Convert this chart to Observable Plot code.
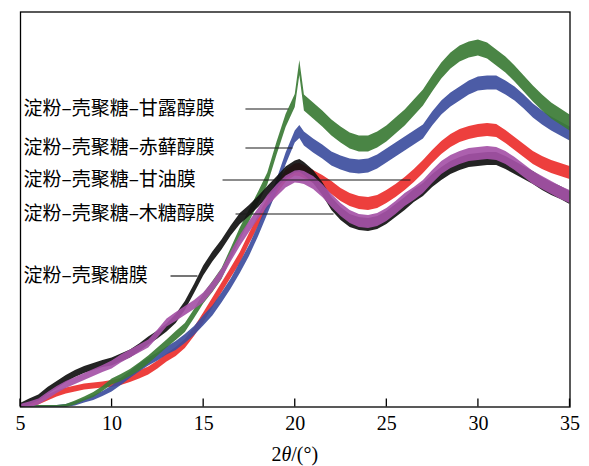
<!DOCTYPE html>
<html>
<head>
<meta charset="utf-8">
<script src="https://cdn.jsdelivr.net/npm/d3@7"></script>
<script src="https://cdn.jsdelivr.net/npm/@observablehq/plot@0.6"></script>
<style>
  html, body { margin: 0; padding: 0; background: #fff; }
  #chart { width: 589px; height: 466px; }
</style>
</head>
<body>
<div id="chart"></div>
<script>
// Diffraction angle 2θ (°)
const angles = [5,5.5,6,6.5,7,7.5,8,8.5,9,9.5,10,10.5,11,11.5,12,12.5,13,13.5,14,14.5,15,15.5,16,16.5,17,17.5,18,18.5,19,19.5,20,20.25,20.5,21,21.5,22,22.5,23,23.5,24,24.5,25,25.5,26,26.5,27,27.5,28,28.5,29,29.5,30,30.5,31,31.5,32,32.5,33,33.5,34,34.5,35];

// Intensity (a.u.), centre of each noisy trace
const chitosanFilm = [1,5,9,16,22,28,33,37,40,43, 45,49,53,59,66,72,79,88,101,118, 136,150,162,176,188,196,205,215,224,234, 240,241, 238,230,218,203,193,186,183,182,184,189, 196,203,211,217,226,233,239,243,246,247, 248,248,244,239,234,229,223,218,214,209];
const xylitolFilm  = [0,2,5,11,17,22,26,30,34,38, 42,48,53,58,63,73,84,90,96,102, 109,120,133,150,166,180,193,206,216,225, 230,230, 229,224,216,206,197,190,186,185,187,192, 199,207,213,220,230,239,245,249,252,253, 254,253,249,243,236,229,224,219,214,210];
const glycerolFilm = [0,2,5,9,13,16,18,20,21,22, 23,25,28,32,36,42,49,55,63,75, 89,104,119,134,149,168,186,203,218,231, 237,237, 235,230,225,219,212,207,204,203,205,210, 216,223,231,240,250,259,266,271,274,276, 277,276,270,263,256,249,244,240,237,234];
const erythritolFilm = [0,0,0,0,0,1,3,6,9,13, 18,25,32,39,45,50,56,61,68,76, 86,96,109,123,139,156,176,198,221,248, 270,275, 268,261,255,248,244,241,240,241,245,251, 257,263,269,275,288,299,307,313,319,323, 324,324,319,313,305,296,289,283,278,273];
const mannitolFilm = [0,0,0,0,0,1,4,8,12,18, 25,29,34,40,47,55,63,71,79,93, 108,120,133,153,173,191,209,228,258,286, 306,339, 304,296,288,279,272,266,263,263,267,273, 281,289,299,309,323,336,346,353,357,359, 356,349,342,333,323,313,304,296,290,284];

// Half-width of the noise band around each trace (a.u.)
const chitosanNoise = [2.5,3,3,3.5,3.5,3.5,3.5,3.5,3.5,3.5, 4,4,4,4,4,4,4,4.5,4.5,4.5, 5,5,5,5,5.5,5.5,5.5,5.5,6,6, 6,6.5, 6.5,6.5,6.5,6.5,6.5,6.5,6.5,6.5,6.5,6.5, 6.5,6.5,6.5,6.5,6.5,6.5,6.5,6.5,6.5,6.5, 6.5,6.5,6.5,6.5,6.5,6.5,6.5,6.5,6.5,6.5];
const xylitolNoise  = [2.5,3,3,3.5,3.5,3.5,3.5,3.5,3.5,3.5, 4,4,4,4,4,4,4,4.5,4.5,4.5, 5,5,5,5,5.5,5.5,5.5,5.5,6,6, 6,6.5, 6.5,6.5,6.5,6.5,6.5,6.5,6.5,6.5,6.5,6.5, 6.5,6.5,6.5,6.5,6.5,6.5,6.5,6.5,6.5,6.5, 6.5,6.5,6.5,6.5,6.5,6.5,6.5,6.5,6.5,6.5];
const glycerolNoise = [2,2.5,3,3,3,3,3,3,3,3, 3.5,3.5,3.5,4,4,4,4,4.5,4.5,4.5, 5,5,5,5,5.5,5.5,5.5,5.5,6,6, 6,6.5, 6.5,6.5,6.5,6.5,6.5,6.5,6.5,6.5,6.5,6.5, 6.5,6.5,6.5,6.5,6.5,6.5,6.5,6.5,6.5,6.5, 6.5,6.5,6.5,6.5,6.5,6.5,6.5,6.5,6.5,6.5];
const erythritolNoise = [1.5,1.5,1.5,1.5,1.5,1.5,2,2,2.5,2.5, 3,3.5,3.5,4,4,4,4,4.5,4.5,4.5, 5,5,5,5,5.5,5.5,5.5,5.5,6,6, 6,6.5, 7,7,7,7,7,7,7,7,7,7, 7,7,7,7,7,7,7,7,7,7, 7,7,7,7,7,7,7,7,7,7];
const mannitolNoise = [1.5,1.5,1.5,1.5,1.5,1.5,2,2,2.5,2.5, 3,3.5,3.5,4,4,4,4,4.5,4.5,4.5, 5,5.5,5.5,5.5,6,6,6,6,6.5,6.5, 6.5,7.5, 8,8,8,8,8,8,8,8,8,8, 8,8,8,8,8,8,8,8,8,8, 8,8,8,8,8,8,8,8,8,8];

// Series labels and their leader lines
const labelNames = ["淀粉–壳聚糖–甘露醇膜", "淀粉–壳聚糖–赤藓醇膜", "淀粉–壳聚糖–甘油膜", "淀粉–壳聚糖–木糖醇膜", "淀粉–壳聚糖膜"];
const labelLevels = [298, 259, 227, 193, 131];
const leaderStart = [17.28, 17.28, 16.03, 16.74, 13.19];
const leaderEnd = [19.63, 19.85, 26.29, 22.09, 14.66];

const xTicks = [5, 10, 15, 20, 25, 30, 35];

// Drawing order (bottom to top) and colours
const series = [
  {values: glycerolFilm, noise: glycerolNoise, color: "#ec2f2c"},
  {values: erythritolFilm, noise: erythritolNoise, color: "#3d4e9e"},
  {values: mannitolFilm, noise: mannitolNoise, color: "#3b7b35"},
  {values: chitosanFilm, noise: chitosanNoise, color: "#111111"},
  {values: xylitolFilm, noise: xylitolNoise, color: "#a553a7"}
];

const bandMarks = series.map(s => {
  const rows = angles.map((a, i) => ({angle: a, lo: s.values[i] - s.noise[i], hi: s.values[i] + s.noise[i]}));
  return Plot.areaY(rows, {x: "angle", y1: "lo", y2: "hi", fill: s.color, fillOpacity: 0.92, clip: true});
});

const labels = labelNames.map((t, i) => ({text: t, level: labelLevels[i], x1: leaderStart[i], x2: leaderEnd[i]}));

const serif = "Liberation Serif, Times New Roman, serif";
const tickLength = 8;

const chart = Plot.plot({
  width: 589,
  height: 466,
  marginLeft: 20,
  marginRight: 19.5,
  marginTop: 11.5,
  marginBottom: 59.5,
  style: {fontFamily: serif, fontSize: "20px", color: "#000", background: "#fff"},
  x: {domain: [5, 35]},
  y: {domain: [0, 395], axis: null},
  marks: [
    ...bandMarks,
    Plot.link(labels, {x1: "x1", x2: "x2", y1: "level", y2: "level", stroke: "#1a1a1a", strokeWidth: 1.2}),
    Plot.text(labels, {text: "text", y: "level", frameAnchor: "left", textAnchor: "start", dx: 3, fontFamily: "Noto Sans CJK SC, sans-serif", fontSize: 19, fill: "#000"}),
    Plot.frame({stroke: "#000", strokeWidth: 1.3}),
    Plot.axisX(xTicks, {tickSize: 0, tickPadding: 9, fontSize: 20, fontFamily: serif, label: null, fill: "#000"})
  ]
});

const xs = chart.scale("x");
const ys = chart.scale("y");
const svg = d3.select(chart);

// Inward-pointing ticks on the bottom axis, placed through the x scale
const y0 = ys.apply(ys.domain[0]);
svg.append("g")
  .attr("stroke", "#000")
  .attr("stroke-width", 1.3)
  .selectAll("line")
  .data(xTicks)
  .join("line")
  .attr("x1", d => xs.apply(d))
  .attr("x2", d => xs.apply(d))
  .attr("y1", y0)
  .attr("y2", y0 - tickLength);

// Axis title with italic θ
const title = svg.append("text")
  .attr("x", xs.apply((xs.domain[0] + xs.domain[1]) / 2))
  .attr("y", 461)
  .attr("text-anchor", "middle")
  .attr("font-family", serif)
  .attr("font-size", 20)
  .attr("fill", "#000");
title.append("tspan").text("2");
title.append("tspan").attr("font-style", "italic").text("θ");
title.append("tspan").text("/(°)");

document.getElementById("chart").appendChild(chart);
</script>
</body>
</html>
